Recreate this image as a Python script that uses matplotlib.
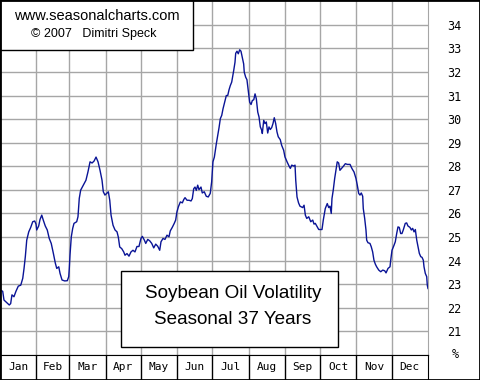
import matplotlib
matplotlib.use("Agg")
import matplotlib.pyplot as plt
from matplotlib.patches import Rectangle

plt.rcParams['font.family'] = ['Liberation Sans', 'DejaVu Sans']

# month layout (day of year)
months = ["Jan", "Feb", "Mar", "Apr", "May", "Jun", "Jul", "Aug", "Sep", "Oct", "Nov", "Dec"]
month_edges = [0, 31, 59, 90, 120, 151, 181, 212, 243, 273, 304, 334, 365]
y_ticks = list(range(21, 35))

# seasonal volatility curve (day of year, %)
days = [0, 2.3, 3.4, 5.7, 7.9, 9.1, 10.2, 11.9, 13.6, 15.6, 17.7, 19.4, 20.5, 21.6, 22.8,
        24.5, 26.2, 27.9, 29.6, 30.7, 31.3, 33.0, 34.1, 35.6, 36.9, 38.6, 40.3, 42.0, 43.7,
        45.5, 47.2, 48.4, 50.1, 51.2, 52.9, 55.2, 57.4, 58.6, 59.1, 59.7, 60.8, 62.0, 63.1,
        65.4, 66.5, 67.1, 67.6, 68.8, 71.0, 73.3, 75.0, 76.8, 78.5, 80.2, 81.9, 83.6, 85.3,
        87.0, 88.1, 89.5, 92.4, 93.6, 94.7, 96.4, 98.1, 99.8, 100.9, 102.1, 103.8, 105.5,
        106.6, 108.3, 110.0, 111.7, 113.4, 115.1, 116.8, 118.5, 120.2, 121.4, 123.1, 124.3,
        126.0, 127.7, 129.4, 131.1, 132.8, 134.5, 136.2, 137.3, 139.0, 140.7, 142.4, 144.1,
        145.2, 146.9, 148.6, 149.8, 150.9, 152.1, 153.8, 155.5, 156.7, 157.8, 159.5, 161.2,
        162.9, 164.0, 165.2, 166.3, 167.4, 168.6, 169.7, 171.4, 172.5, 174.2, 175.9, 177.6,
        179.3, 180.5, 181.6, 182.8, 184.5, 185.7, 186.8, 187.9, 189.1, 190.2, 191.9, 193.0,
        194.2, 195.3, 196.4, 197.6, 199.3, 200.4, 201.0, 202.1, 203.2, 204.4, 205.5, 206.6,
        207.8, 208.3, 209.5, 210.6, 211.7, 212.9, 214.1, 215.2, 216.4, 217.5, 218.6, 219.8,
        220.9, 222.0, 223.2, 223.7, 224.9, 226.0, 227.1, 228.3, 229.4, 230.5, 231.7, 232.8,
        233.9, 235.1, 236.2, 237.3, 239.0, 240.2, 241.9, 243.0, 244.8, 246.5, 247.6, 248.8,
        250.5, 251.6, 252.2, 253.3, 254.6, 255.8, 258.1, 259.3, 260.4, 261.6, 263.3, 265.0,
        266.7, 267.8, 268.9, 270.6, 271.8, 274.6, 275.7, 277.4, 279.1, 280.3, 281.4, 282.5,
        283.1, 284.2, 285.4, 286.5, 287.6, 288.8, 289.9, 291.1, 292.8, 294.5, 296.2, 298.5,
        300.2, 301.9, 303.6, 304.7, 305.9, 307.0, 308.1, 309.3, 309.8, 311.0, 312.1, 312.7,
        313.8, 315.5, 316.6, 317.8, 318.9, 320.1, 321.2, 323.0, 324.7, 326.4, 328.1, 329.2,
        330.9, 332.6, 333.2, 334.3, 336.0, 337.1, 338.3, 339.4, 340.5, 341.7, 342.8, 343.9,
        345.6, 346.8, 347.9, 349.6, 350.8, 351.9, 353.1, 354.2, 355.4, 356.5, 357.6, 358.8,
        359.9, 361.0, 361.6, 362.7, 363.9, 364.4, 365.0]
vol = [22.76, 22.7, 22.33, 22.22, 22.12, 22.18, 22.55, 22.47, 22.7, 22.92, 22.96, 23.25, 23.67,
       24.17, 24.87, 25.22, 25.41, 25.65, 25.68, 25.55, 25.3, 25.47, 25.74, 25.93, 25.72, 25.47,
       25.3, 24.94, 24.73, 24.31, 23.89, 23.67, 23.74, 23.46, 23.18, 23.14, 23.15, 23.32, 23.67,
       24.24, 25.01, 25.37, 25.58, 25.65, 25.86, 26.28, 26.64, 26.99, 27.2, 27.41, 27.76, 28.19,
       28.14, 28.22, 28.39, 28.19, 27.83, 27.41, 26.92, 26.78, 26.92, 26.56, 25.93, 25.5, 25.3,
       25.22, 25.0, 24.58, 24.51, 24.37, 24.23, 24.3, 24.19, 24.37, 24.44, 24.37, 24.6, 24.6,
       24.94, 25.03, 24.87, 24.73, 24.9, 24.84, 24.73, 24.54, 24.7, 24.61, 24.44, 24.8, 24.94,
       24.9, 25.08, 25.01, 25.26, 25.41, 25.58, 25.72, 26.07, 26.28, 26.49, 26.45, 26.59, 26.67,
       26.56, 26.56, 26.53, 26.63, 27.05, 27.12, 26.98, 27.2, 27.01, 27.12, 26.87, 26.92, 26.73,
       26.7, 26.85, 27.34, 28.19, 28.39, 28.96, 29.31, 29.64, 30.02, 30.16, 30.44, 30.79, 31.0,
       31.0, 31.24, 31.42, 31.57, 32.06, 32.41, 32.79, 32.88, 32.77, 32.94, 32.88, 32.62, 32.34,
       31.99, 31.78, 31.67, 31.21, 30.72, 30.62, 30.79, 30.82, 31.07, 30.86, 30.3, 30.09, 29.67,
       29.53, 29.39, 29.95, 29.81, 29.88, 29.41, 29.67, 29.56, 29.64, 29.81, 30.06, 29.81, 29.46,
       29.25, 29.13, 28.89, 28.68, 28.4, 28.19, 28.01, 27.91, 28.05, 28.01, 28.05, 27.41, 26.7,
       26.45, 26.31, 26.25, 26.35, 25.93, 25.79, 25.86, 25.65, 25.72, 25.55, 25.58, 25.43, 25.32,
       25.32, 25.72, 26.21, 26.42, 26.25, 26.31, 26.0, 26.63, 26.99, 27.48, 27.83, 28.19, 28.14,
       27.83, 27.9, 28.0, 28.11, 28.08, 28.08, 27.9, 27.76, 27.48, 27.2, 26.85, 26.78, 26.87,
       26.73, 26.21, 25.79, 25.3, 24.87, 24.76, 24.73, 24.59, 24.37, 24.02, 23.85, 23.74, 23.6,
       23.53, 23.6, 23.57, 23.48, 23.67, 23.74, 24.02, 24.44, 24.65, 24.8, 25.15, 25.43, 25.41,
       25.15, 25.15, 25.3, 25.58, 25.6, 25.47, 25.41, 25.3, 25.37, 25.22, 25.32, 24.87, 24.59,
       24.31, 24.17, 24.14, 24.02, 23.74, 23.46, 23.32, 22.96, 22.82]

W, H = 480, 380
fig = plt.figure(figsize=(W / 100, H / 100), dpi=100)
fig.patch.set_facecolor("white")

ax = fig.add_axes([0, 25 / H, 428 / W, 355 / H])
ax.plot(days, vol, color="#0a1496", lw=1.0, zorder=3)
ax.set_xlim(0, 365)
ax.set_ylim(20, 35.05)
ax.set_xticks(month_edges[1:-1])
ax.set_yticks(y_ticks)
ax.grid(True, color="#a6a6a6", lw=1.0)
ax.set_axisbelow(True)
ax.tick_params(axis="x", length=0, labelbottom=False)
ax.yaxis.tick_right()
ax.tick_params(axis="y", length=0, pad=14, labelsize=8.5, labelfontfamily="DejaVu Sans Mono")
for s in ["left", "top", "bottom"]:
    ax.spines[s].set_color("black")
ax.spines["right"].set_color("#a6a6a6")
ax.text(1.064, 0.0, "%", transform=ax.transAxes, ha="center", va="center",
        fontsize=8.5, family="DejaVu Sans Mono")

# source box, top left
ax.add_patch(Rectangle((0, 1 - 50 / 355), 193 / 428, 50 / 355, transform=ax.transAxes,
                       facecolor="white", edgecolor="black", lw=1.0, zorder=5))
ax.text(97 / 428, 1 - 16 / 355, "www.seasonalcharts.com", transform=ax.transAxes,
        ha="center", va="center", fontsize=10.5, zorder=6)
ax.text(94 / 428, 1 - 34 / 355, "\u00a9 2007   Dimitri Speck", transform=ax.transAxes,
        ha="center", va="center", fontsize=9, zorder=6)

# title box
ax.add_patch(Rectangle((121 / 428, (355 - 347) / 355), 217 / 428, 76 / 355, transform=ax.transAxes,
                       facecolor="white", edgecolor="black", lw=1.0, zorder=5))
ax.text(233 / 428, (355 - 293) / 355, "Soybean Oil Volatility", transform=ax.transAxes,
        ha="center", va="center", fontsize=13.6, zorder=6)
ax.text(233 / 428, (355 - 320) / 355, "Seasonal 37 Years", transform=ax.transAxes,
        ha="center", va="center", fontsize=13.6, zorder=6)

# month strip
mx = fig.add_axes([0, 0, 428 / W, 25 / H])
mx.set_xlim(0, 365)
mx.set_ylim(0, 1)
mx.set_xticks([])
mx.set_yticks([])
for e in month_edges[1:-1]:
    mx.axvline(e, color="black", lw=1.0)
for i, m in enumerate(months):
    mx.text((month_edges[i] + month_edges[i + 1]) / 2, 0.5, m, ha="center", va="center",
            fontsize=8, family="DejaVu Sans Mono")

fig.add_artist(Rectangle((0, 0), 1, 1, transform=fig.transFigure, fill=False,
                         edgecolor="black", lw=2))

fig.savefig("out.png", dpi=100)
